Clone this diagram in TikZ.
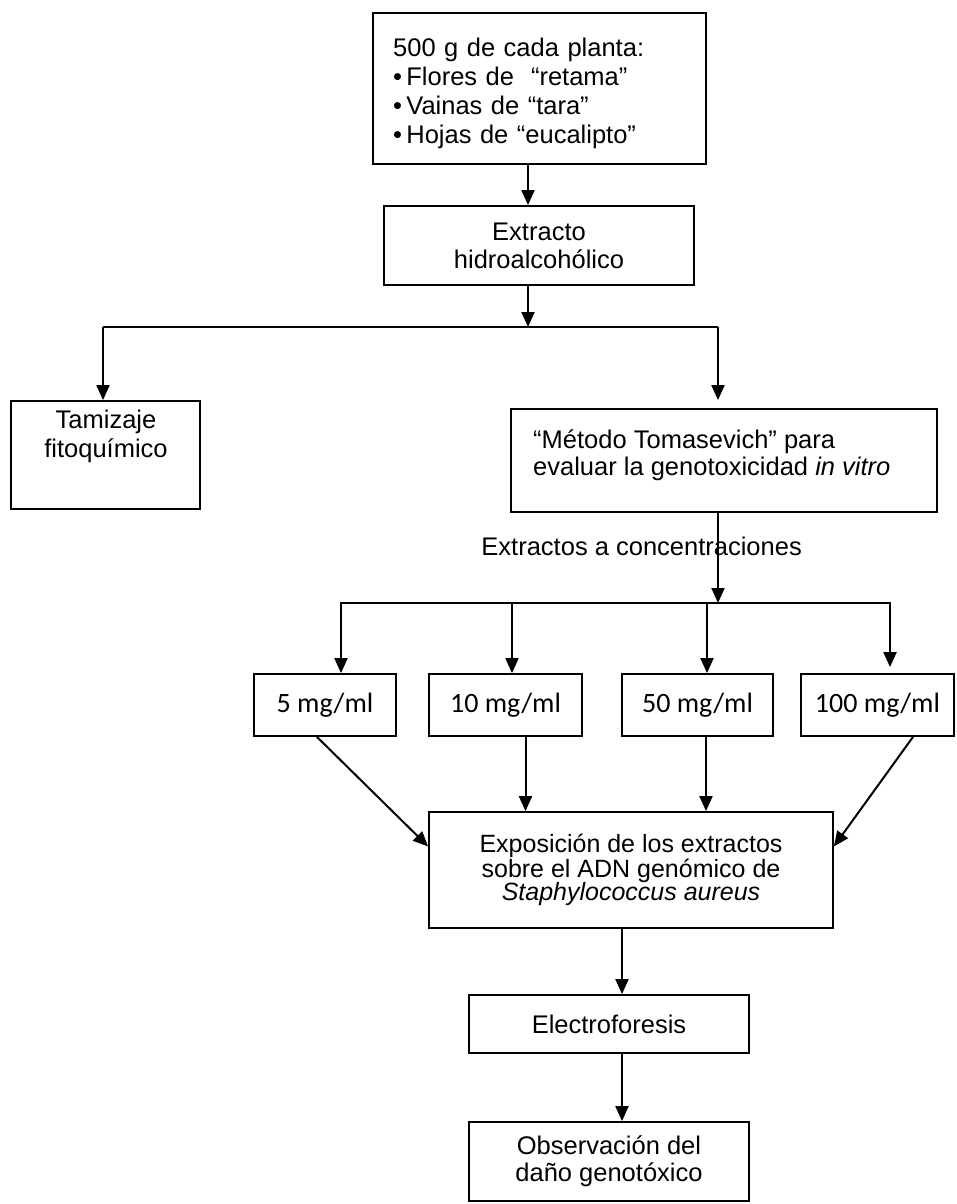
\documentclass[tikz,border=0pt]{standalone}
\usepackage{fontspec}
\setmainfont{Liberation Sans}
\newfontfamily\calib{Carlito}
\usetikzlibrary{arrows.meta,calc}
\begin{document}
\begin{tikzpicture}[x=1pt,y=-1pt,
  box/.style={draw, line width=1.8pt, inner sep=0pt, align=center, font=\fontsize{25.5}{28}\selectfont},
  conc/.style={box, font=\calib\fontsize{28}{32}\selectfont},
  ln/.style={line width=2pt},
  arr/.style={ln, -{Triangle[length=15pt,width=13pt]}},
  txt/.style={inner sep=0pt, font=\fontsize{25.5}{29}\selectfont}]
\useasboundingbox (0,0) rectangle (956,1204);

% boxes
\node[box, minimum width=333pt, minimum height=151pt] (top) at (539.5,88.5) {};
\node[txt, anchor=west, text width=300pt, align=left] (topT) at (393,93.5)
  {500 g de cada planta:\\•\,Flores de~~“retama”\\•\,Vainas de “tara”\\•\,Hojas de “eucalipto”};
\node[box, minimum width=310pt, minimum height=79pt] (ext) at (539,245.5) {Extracto\\hidroalcohólico};
\node[box, minimum width=189pt, minimum height=108pt] (tam) at (105.5,455) {};
\node[txt, align=center] (tamT) at (106,436) {Tamizaje\\fitoquímico};
\node[box, minimum width=426pt, minimum height=103pt] (met) at (724,460.5) {};
\node[txt, anchor=west, align=left, font=\fontsize{25.5}{27}\selectfont] (metT) at (533,455)
  {“Método Tomasevich” para\\evaluar la genotoxicidad \textit{in vitro}};
\node[txt, anchor=base east] (lab) at (802,555) {Extractos a concentraciones};

\node[conc, minimum width=142pt, minimum height=62pt] (c5) at (325,705) {5 mg/ml};
\node[conc, minimum width=153pt, minimum height=62pt] (c10) at (505.5,705) {10 mg/ml};
\node[conc, minimum width=151pt, minimum height=62pt] (c50) at (697.5,705) {50 mg/ml};
\node[conc, minimum width=153pt, minimum height=62pt] (c100) at (877.5,705) {100 mg/ml};

\node[box, minimum width=404pt, minimum height=116pt, font=\fontsize{25}{23.5}\selectfont] (exp) at (631,870)
  {Exposición de los extractos\\sobre el ADN genómico de\\\textit{Staphylococcus aureus}};
\node[box, minimum width=280pt, minimum height=58pt] (elec) at (609,1024) {Electroforesis};
\node[box, minimum width=280pt, minimum height=79pt, font=\fontsize{25.5}{27}\selectfont] (obs) at (609,1161.5)
  {Observación del\\daño genotóxico};

% connectors
\coordinate (s1) at (528,327);
\coordinate (hL) at (103,327);
\coordinate (hR) at (718,327);
\draw[arr] (top.south -| s1) -- (ext.north -| s1);
\draw[arr] (ext.south -| s1) -- (s1);
\draw[ln] (hL) -- (hR);
\draw[arr] (hL) -- (tam.north -| hL);
\draw[arr, shorten >=8pt] (hR) -- (met.north -| hR);

\coordinate (s2) at (718,603);
\draw[arr] (met.south -| s2) -- (s2);
\coordinate (gL) at (340,603);
\coordinate (gR) at (891,603);
\draw[ln] (gL) -- (gR);
\coordinate (g5) at (341,603);
\coordinate (g10) at (512,603);
\coordinate (g50) at (707,603);
\coordinate (g100) at (890,603);
\draw[arr] (g5) -- (g5 |- c5.north);
\draw[arr] (g10) -- (g10 |- c10.north);
\draw[arr] (g50) -- (g50 |- c50.north);
\draw[arr, shorten >=6pt] (g100) -- (g100 |- c100.north);

\draw[arr] ($(c5.south west)!0.444!(c5.south east)$) -- ($(exp.north west)!0.3!(exp.south west)$);
\coordinate (d10) at ($(c10.south)+(20,0)$);
\draw[arr] (d10) -- (d10 |- exp.north);
\coordinate (d50) at ($(c50.south)+(8.5,0)$);
\draw[arr] (d50) -- (d50 |- exp.north);
\draw[arr] ($(c100.south)+(35.5,0)$) -- ($(exp.north east)!0.3!(exp.south east)$);

\coordinate (e1) at ($(exp.south)+(-9,0)$);
\draw[arr] (e1) -- (e1 |- elec.north);
\draw[arr] (elec.south -| e1) -- (obs.north -| e1);
\end{tikzpicture}
\end{document}
